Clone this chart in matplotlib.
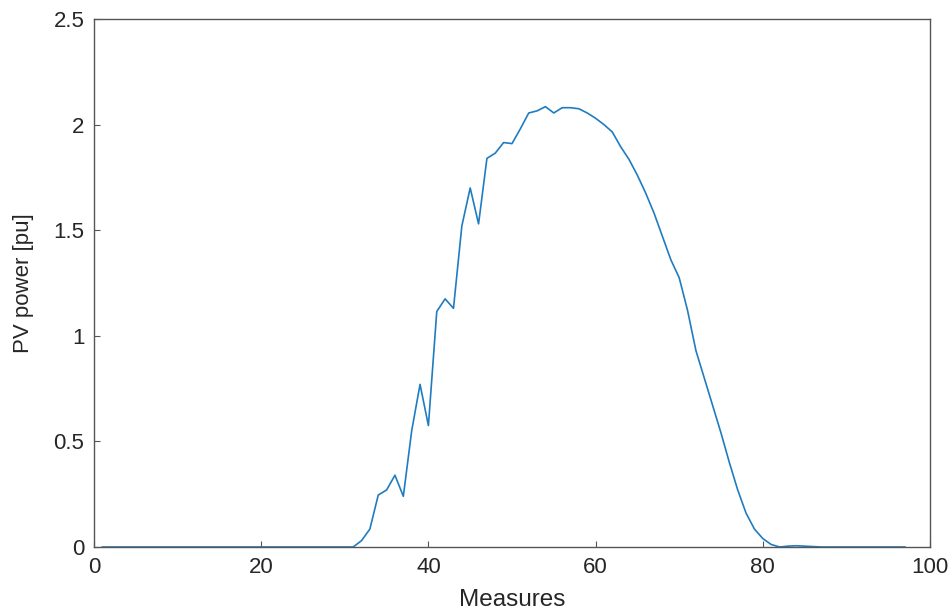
import matplotlib
matplotlib.use("Agg")
import matplotlib.pyplot as plt

measures = list(range(1, 98))
pv_power = [
    0, 0, 0, 0, 0, 0, 0, 0, 0, 0,
    0, 0, 0, 0, 0, 0, 0, 0, 0, 0,
    0, 0, 0, 0, 0, 0, 0, 0, 0, 0,
    0,
    0.03, 0.085, 0.246, 0.27, 0.34, 0.24, 0.55, 0.77, 0.575,
    1.115, 1.175, 1.13, 1.52, 1.70, 1.53, 1.84, 1.865, 1.915, 1.91,
    1.98, 2.055, 2.065, 2.085, 2.055, 2.08, 2.08, 2.075, 2.055, 2.03,
    2.0, 1.965, 1.895, 1.835, 1.76, 1.675, 1.58, 1.47, 1.36, 1.275,
    1.12, 0.93, 0.80, 0.67, 0.54, 0.40, 0.27, 0.16, 0.085, 0.04,
    0.012, 0, 0.004, 0.006, 0.004, 0.002,
    0, 0, 0, 0, 0, 0, 0, 0, 0, 0, 0,
]
x_ticks = [0, 20, 40, 60, 80, 100]
y_ticks = [0, 0.5, 1, 1.5, 2, 2.5]
y_tick_labels = ["0", "0.5", "1", "1.5", "2", "2.5"]

plt.rcParams['font.family'] = ['Liberation Sans', 'DejaVu Sans']

fig = plt.figure(figsize=(9.52, 6.09), dpi=100)
ax = fig.add_axes([94/952, 62/609, (930-94)/952, (547-19)/609])

ax.plot(measures, pv_power, color='#1f7cc0', linewidth=1.2)

ax.set_xlim(0, 100)
ax.set_ylim(0, 2.5)
ax.set_xticks(x_ticks)
ax.set_yticks(y_ticks)
ax.set_yticklabels(y_tick_labels)

axis_color = '#555555'
for s in ax.spines.values():
    s.set_color(axis_color)
    s.set_linewidth(1.0)
ax.tick_params(direction='in', length=4, width=0.8, color=axis_color,
               labelsize=16, labelcolor='#262626', pad=7)

ax.set_xlabel('Measures', fontsize=17.5, color='#262626', labelpad=8)
ax.set_ylabel('PV power [pu]', fontsize=16, color='#262626', labelpad=14)

fig.savefig('out.png', dpi=100, facecolor='white')
